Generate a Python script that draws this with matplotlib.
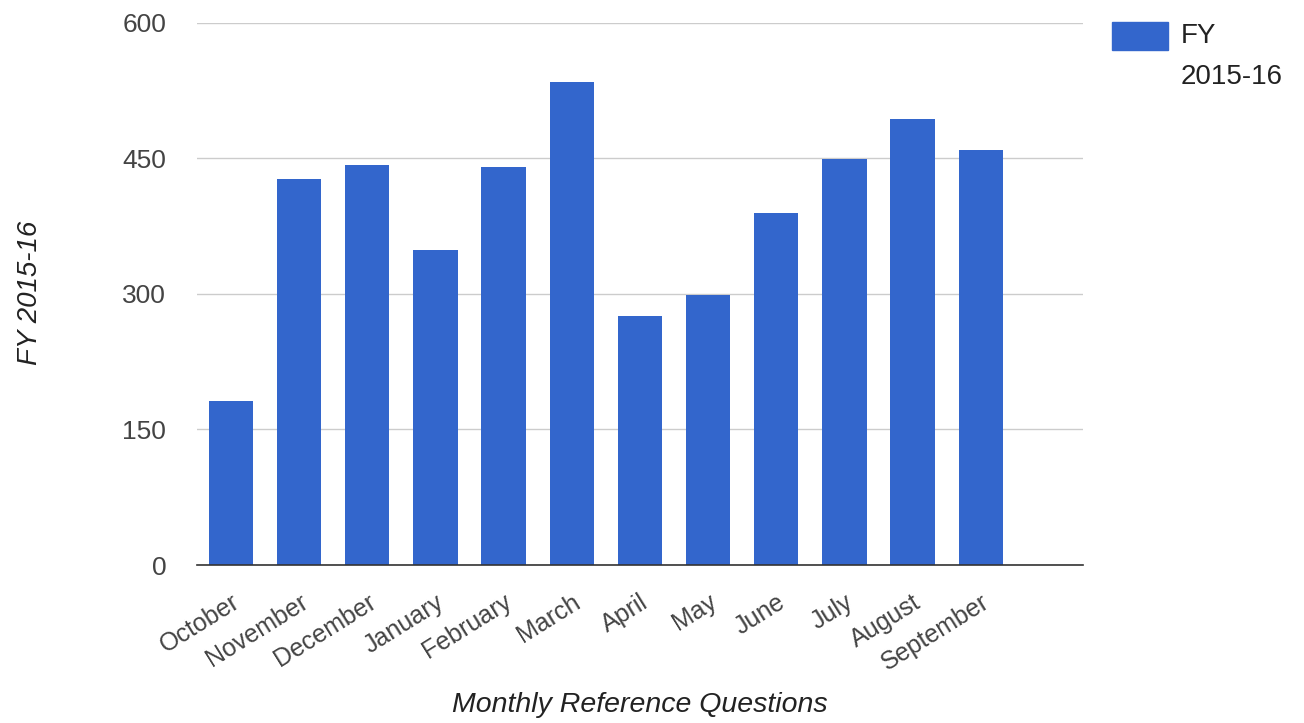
import matplotlib
matplotlib.use("Agg")
import matplotlib.pyplot as plt
from matplotlib.patches import Rectangle

months = ["October", "November", "December", "January", "February", "March",
          "April", "May", "June", "July", "August", "September"]
questions = [182, 427, 443, 349, 440, 535, 275, 299, 390, 449, 493, 459]
y_ticks = [0, 150, 300, 450, 600]
series_name = "FY\n2015-16"
y_title = "FY 2015-16"
x_title = "Monthly Reference Questions"

bar_color = "#3366CC"
text_color = "#444444"

plt.rcParams["font.family"] = ["Liberation Sans", "DejaVu Sans"]

fig = plt.figure(figsize=(13.04, 7.23), dpi=100)
ax = fig.add_axes([0.151, 0.2185, 0.6795, 0.75])

x = list(range(len(months)))
ax.bar(x, questions, width=0.65, color=bar_color, zorder=2)

ax.set_xlim(-0.5, 12.5)
ax.set_ylim(0, 600)
ax.set_yticks(y_ticks)
ax.set_yticklabels([str(v) for v in y_ticks], fontsize=19, color=text_color)
ax.set_xticks(x)
ax.set_xticklabels(months, rotation=32, ha="right", rotation_mode="anchor",
                   fontsize=18, color=text_color)
ax.tick_params(axis="both", length=0)
ax.tick_params(axis="y", pad=22)
ax.tick_params(axis="x", pad=18)

ax.grid(axis="y", color="#cccccc", linewidth=1, zorder=0)
for side in ("top", "right", "left"):
    ax.spines[side].set_visible(False)
ax.spines["bottom"].set_color("#333333")
ax.spines["bottom"].set_linewidth(1.2)
ax.spines["bottom"].set_zorder(3)

fig.text(0.023, 0.595, y_title, rotation=90, style="italic", fontsize=20,
         color="#222222", ha="center", va="center")
fig.text(0.491, 0.025, x_title, style="italic", fontsize=20.5,
         color="#222222", ha="center", va="center")

# Legend: swatch beside a two-line series label
fig.add_artist(Rectangle((1112 / 1304, 1 - 50 / 723), 56 / 1304, 28 / 723,
                         transform=fig.transFigure, color=bar_color))
fig.text(1181 / 1304, 1 - 23 / 723, series_name, fontsize=20, color="#222222",
         ha="left", va="top", linespacing=1.75)

fig.savefig("out.png", dpi=100)
